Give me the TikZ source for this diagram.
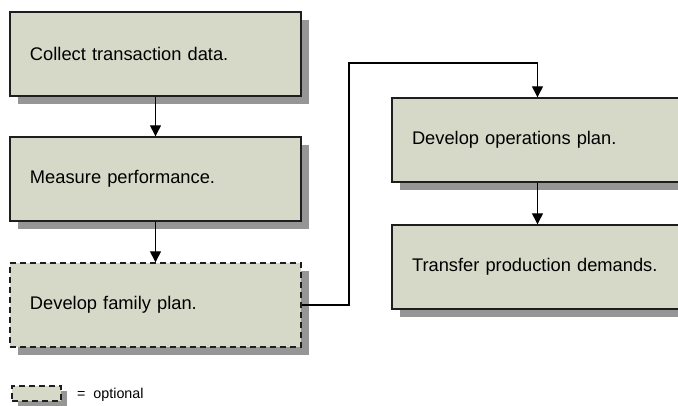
\documentclass[tikz,border=0pt]{standalone}
\usepackage{fontspec}
\setmainfont{Liberation Sans}
\usetikzlibrary{arrows.meta,shadows}
\definecolor{boxfill}{RGB}{215,217,200}
\definecolor{shadowgray}{RGB}{150,150,150}
\definecolor{edgecol}{RGB}{30,30,30}
\tikzset{
  stepbox/.style={draw=edgecol, line width=1.4pt, fill=boxfill,
    minimum width=291pt, minimum height=84pt, text width=251pt,
    inner xsep=20pt, align=left, font=\fontsize{18.3}{22}\selectfont,
    drop shadow={shadow xshift=8pt, shadow yshift=-8pt, fill=shadowgray, opacity=1}},
  optbox/.style={stepbox, dashed, dash pattern=on 6pt off 4pt},
  link/.style={draw=black, line width=1.3pt, -{Triangle[length=11pt,width=11pt]}}
}
\begin{document}
\begin{tikzpicture}[x=1pt,y=-1pt]
\useasboundingbox (0,0) rectangle (678,405);
\node[stepbox] (b1) at (155.5,54) {Collect transaction data.};
\node[stepbox] (b2) at (155.5,179) {Measure performance.};
\node[optbox]  (b3) at (155.5,305) {Develop family plan.};
\node[stepbox] (b4) at (537.5,140) {Develop operations plan.};
\node[stepbox] (b5) at (537.5,267) {Transfer production demands.};
\coordinate (bend) at (349,63);
\draw[link] (b1.south) -- (b2.north);
\draw[link] (b2.south) -- (b3.north);
\draw[link] (b4.south) -- (b5.north);
\draw[link] (b3.east) -| (bend) -| (b4.north);
% legend
\node[draw=edgecol, line width=1.4pt, fill=boxfill, dashed, dash pattern=on 6pt off 4pt,
  minimum width=49pt, minimum height=15pt, inner sep=0pt,
  drop shadow={shadow xshift=6pt, shadow yshift=-5pt, fill=shadowgray, opacity=1}] (leg) at (36.5,393.5) {};
\node[anchor=west, inner sep=0pt, font=\fontsize{14.3}{17}\selectfont] (legtext) at (77,395) {=\ \ optional};
\end{tikzpicture}
\end{document}
